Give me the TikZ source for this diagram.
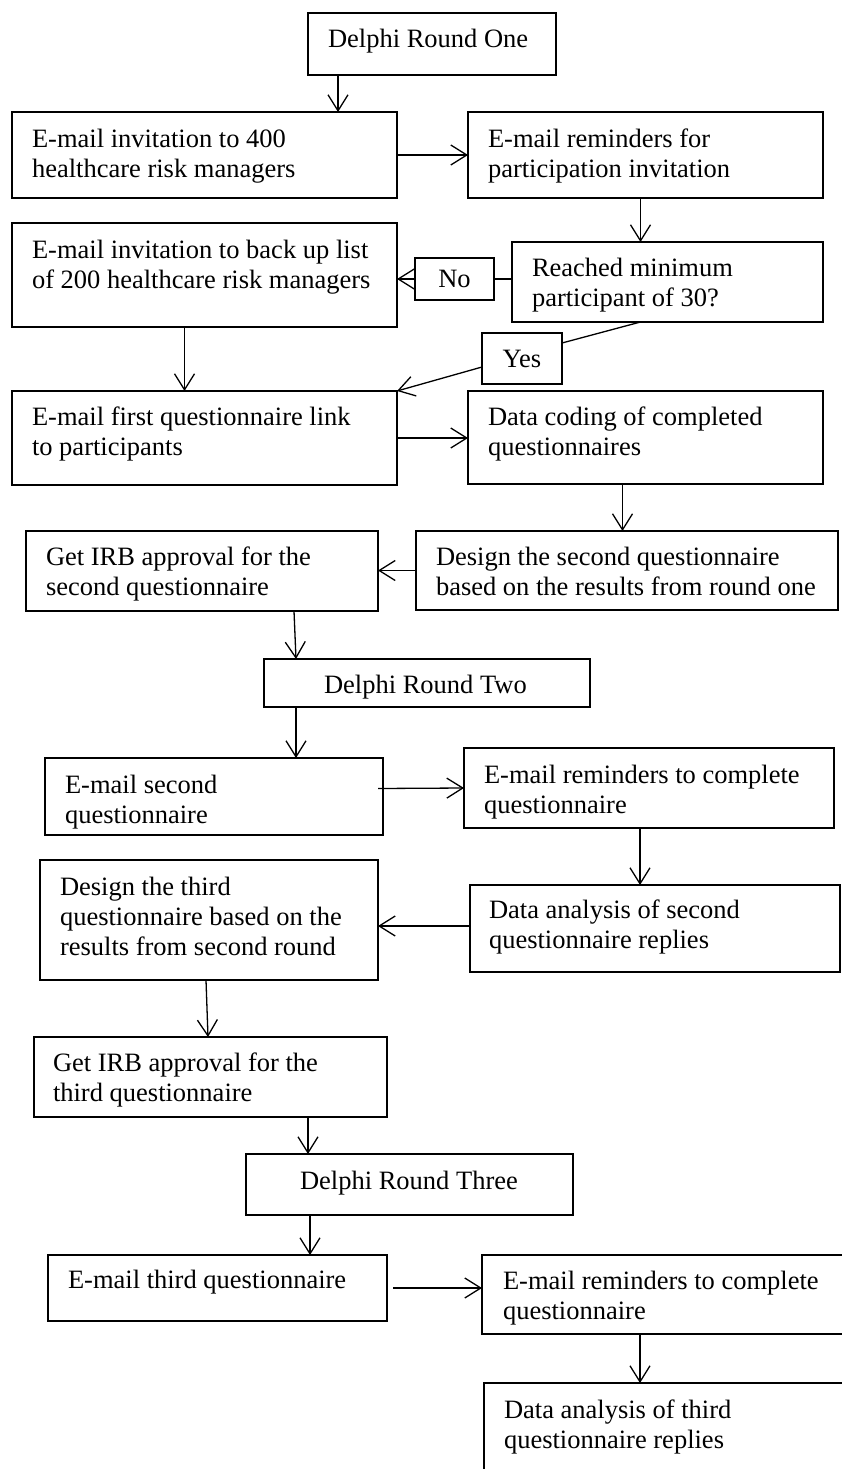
\documentclass[tikz,border=0pt]{standalone}
\usepackage{fontspec}
\setmainfont{Liberation Serif}
\usetikzlibrary{arrows.meta,calc}
\begin{document}
\begin{tikzpicture}[x=1pt,y=-1pt,
  box/.style={draw, line width=1.3pt, inner sep=0pt, outer sep=0pt},
  txt/.style={anchor=north west, inner sep=0pt, outer sep=0pt, align=left, font=\fontsize{26.5pt}{30pt}\selectfont},
  lbl/.style={box, font=\fontsize{26.5pt}{30pt}\selectfont},
  arr/.style={line width=1.3pt, -{Straight Barb[length=16pt,width=20pt]}},
  ln/.style={line width=1.3pt}]
\path[use as bounding box] (0,0) rectangle (842,1469);
\clip (0,0) rectangle (842,1469);

% boxes
\node[box, minimum width=248pt, minimum height=62pt] (d1) at (432,44) {};
\node[box, minimum width=385pt, minimum height=86pt] (inv) at (204.5,155) {};
\node[box, minimum width=355pt, minimum height=86pt] (rem1) at (645.5,155) {};
\node[box, minimum width=311pt, minimum height=80pt] (reach) at (667.5,282) {};
\node[lbl, minimum width=79pt, minimum height=42pt] (no) at (454.5,279) {No};
\node[box, minimum width=385pt, minimum height=104pt] (backup) at (204.5,275) {};
\node[lbl, minimum width=80pt, minimum height=51pt] (yes) at (522,358.5) {Yes};
\node[box, minimum width=385pt, minimum height=94pt] (first) at (204.5,438) {};
\node[box, minimum width=355pt, minimum height=93pt] (coding) at (645.5,437.5) {};
\node[box, minimum width=422pt, minimum height=79pt] (des2) at (627,570.5) {};
\node[box, minimum width=352pt, minimum height=80pt] (irb2) at (202,571) {};
\node[box, minimum width=326pt, minimum height=48pt] (d2) at (427,683) {};
\node[box, minimum width=338pt, minimum height=77pt] (em2) at (214,796.5) {};
\node[box, minimum width=370pt, minimum height=80pt] (rem2) at (649,788) {};
\node[box, minimum width=370pt, minimum height=87pt] (da2) at (655,928.5) {};
\node[box, minimum width=338pt, minimum height=120pt] (des3) at (209,920) {};
\node[box, minimum width=353pt, minimum height=80pt] (irb3) at (210.5,1077) {};
\node[box, minimum width=327pt, minimum height=61pt] (d3) at (409.5,1184.5) {};
\node[box, minimum width=339pt, minimum height=66pt] (em3) at (217.5,1288) {};
\node[box, minimum width=362pt, minimum height=79pt] (rem3) at (663,1294.5) {};
\node[box, minimum width=360pt, minimum height=117pt] (da3) at (664,1441.5) {};

% texts
\node[txt] (td1) at (328,27) {\strut Delphi Round One};
\node[txt] (tinv) at (32,126) {\strut E-mail invitation to 400\\healthcare risk managers};
\node[txt] (trem1) at (488,126) {\strut E-mail reminders for\\participation invitation};
\node[txt] (treach) at (532,255) {\strut Reached minimum\\participant of 30?};
\node[txt] (tbackup) at (32,237) {\strut E-mail invitation to back up list\\of 200 healthcare risk managers};
\node[txt] (tfirst) at (32,404) {\strut E-mail first questionnaire link\\to participants};
\node[txt] (tcoding) at (488,404) {\strut Data coding of completed\\questionnaires};
\node[txt] (tdes2) at (436,544) {\strut Design the second questionnaire\\based on the results from round one};
\node[txt] (tirb2) at (46,544) {\strut Get IRB approval for the\\second questionnaire};
\node[txt] (td2) at (324,672) {\strut Delphi Round Two};
\node[txt] (tem2) at (65,772) {\strut E-mail second\\questionnaire};
\node[txt] (trem2) at (484,762) {\strut E-mail reminders to complete\\questionnaire};
\node[txt] (tda2) at (489,897) {\strut Data analysis of second\\questionnaire replies};
\node[txt] (tdes3) at (60,874) {\strut Design the third\\questionnaire based on the\\results from second round};
\node[txt] (tirb3) at (53,1050) {\strut Get IRB approval for the\\third questionnaire};
\node[txt] (td3) at (300,1168) {\strut Delphi Round Three};
\node[txt] (tem3) at (68,1267) {\strut E-mail third questionnaire};
\node[txt] (trem3) at (503,1268) {\strut E-mail reminders to complete\\questionnaire};
\node[txt] (tda3) at (504,1397) {\strut Data analysis of third\\questionnaire replies};

% connectors
\draw[arr] ($(d1.south west)+(30,0)$) coordinate (a1) -- (a1 |- inv.north);
\draw[arr] (inv.east) -- (inv.east -| rem1.west);
\draw[arr] ($(rem1.south)+(-5,0)$) coordinate (a2) -- (a2 |- reach.north);
\draw[ln] (no.east -| reach.west) -- (no.east);
\draw[arr] (no.west) -- (no.west -| backup.east);
\draw[arr] ($(backup.south)+(-20,0)$) coordinate (a3) -- (a3 |- first.north);
\draw[ln] ($(reach.south)+(-27,0)$) -- ($(yes.north east)+(0,10)$);
\draw[arr] ($(yes.south west)+(0,-17)$) -- (first.north east);
\draw[arr] (first.east) -- (first.east -| coding.west);
\draw[arr] ($(coding.south)+(-23,0)$) coordinate (a4) -- (a4 |- des2.north);
\draw[arr] (des2.west) -- (des2.west -| irb2.east);
\draw[arr] ($(irb2.south)+(92,0)$) -- ($(d2.north west)+(32,0)$);
\draw[arr] ($(d2.south west)+(32,0)$) coordinate (a5) -- (a5 |- em2.north);
\draw[arr] ($(em2.east)+(-5,-8)$) -- (rem2.west);
\draw[arr] ($(rem2.south)+(-9,0)$) coordinate (a6) -- (a6 |- da2.north);
\draw[arr] ($(da2.west)+(0,-2.5)$) coordinate (a7) -- (a7 -| des3.east);
\draw[arr] ($(des3.south)+(-3,0)$) -- ($(irb3.north west)+(174,0)$);
\draw[arr] ($(irb3.south)+(97.5,0)$) coordinate (a8) -- (a8 |- d3.north);
\draw[arr] ($(d3.south west)+(64,0)$) coordinate (a9) -- (a9 |- em3.north);
\draw[arr] ($(em3.east)+(6,0)$) -- (em3.east -| rem3.west);
\draw[arr] ($(rem3.south west)+(158,0)$) coordinate (a10) -- (a10 |- da3.north);
\end{tikzpicture}
\end{document}
